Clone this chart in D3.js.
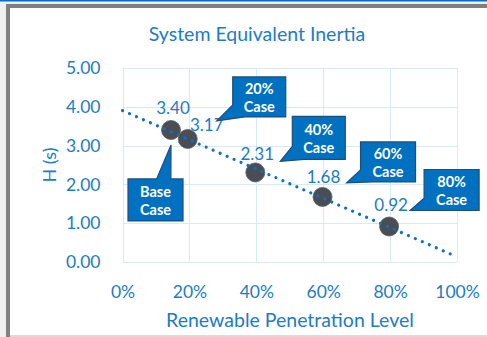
<!DOCTYPE html>
<html>
<head>
<meta charset="utf-8">
<script src="https://cdn.jsdelivr.net/npm/d3@7"></script>
<style>
  html, body { margin: 0; padding: 0; background: #fff; }
  svg { display: block; font-family: Lato, "Open Sans", sans-serif; }
</style>
</head>
<body>
<svg id="chart" width="487" height="337"></svg>
<script>
// Scenario data: renewable share vs. equivalent inertia
const penetration = [0.145, 0.195, 0.397, 0.598, 0.797];
const inertia = [3.40, 3.17, 2.31, 1.68, 0.92];
const caseNames = ["Base\nCase", "20%\nCase", "40%\nCase", "60%\nCase", "80%\nCase"];
const yTicks = [0, 1, 2, 3, 4, 5];
const xTicks = [0, 0.2, 0.4, 0.6, 0.8, 1.0];

// Label and callout placement (pixel offsets from each point)
const valueLabelOffset = [[2, -16], [19, -8], [2, -12], [1, -14], [2, -15]];
const calloutBox = [
  { x: -43, y: 49, w: 55, h: 42, tip: [0, 15] },
  { x: 45, y: -62, w: 53, h: 40, tip: [29, -18] },
  { x: 37, y: -56, w: 53, h: 43, tip: [25, -11] },
  { x: 38, y: -55, w: 55, h: 40, tip: [24, -14] },
  { x: 35, y: -57, w: 55, h: 41, tip: [21, -16] }
];

const svg = d3.select("#chart");
const blue = "#1E7CC2";

// Window frame
svg.append("rect").attr("x", 0).attr("y", 0).attr("width", 487).attr("height", 337).attr("fill", "#F0F0F0");
svg.append("rect").attr("x", 6).attr("y", 4).attr("width", 481).attr("height", 333).attr("fill", "#808080");
svg.append("rect").attr("x", 10).attr("y", 8).attr("width", 477).attr("height", 327).attr("fill", "#FFFFFF");
svg.append("rect").attr("x", 10).attr("y", 335).attr("width", 477).attr("height", 2).attr("fill", "#DADADA");
svg.append("rect").attr("x", 0).attr("y", 0).attr("width", 487).attr("height", 1.5).attr("fill", "#0070C0");

const x = d3.scaleLinear().domain([0, 1]).range([122.5, 457]);
const y = d3.scaleLinear().domain([0, 5]).range([262.3, 67.7]);

// Gridlines
const grid = svg.append("g").attr("stroke", "#D7EAF8").attr("stroke-width", 1);
grid.selectAll("line.h").data(yTicks).join("line")
  .attr("x1", x(0)).attr("x2", x(1))
  .attr("y1", d => Math.round(y(d)) + 0.5).attr("y2", d => Math.round(y(d)) + 0.5);
grid.selectAll("line.v").data(xTicks).join("line")
  .attr("y1", y(0)).attr("y2", y(5))
  .attr("x1", d => Math.round(x(d)) + 0.5).attr("x2", d => Math.round(x(d)) + 0.5);

// Axes
const yAxis = svg.append("g").attr("transform", `translate(${x(0)},0)`)
  .call(d3.axisLeft(y).tickValues(yTicks).tickFormat(d3.format(".2f")).tickSize(0).tickPadding(22));
const xAxis = svg.append("g").attr("transform", `translate(0,${y(0)})`)
  .call(d3.axisBottom(x).tickValues(xTicks).tickFormat(d3.format(".0%")).tickSize(0).tickPadding(22));
[yAxis, xAxis].forEach(a => {
  a.select(".domain").remove();
  a.selectAll("text").attr("fill", blue).attr("font-size", 17.5).attr("font-family", "Lato, sans-serif");
});
xAxis.selectAll("text").attr("dy", "0.76em");

// Titles
svg.append("text").attr("x", 257).attr("y", 41).attr("text-anchor", "middle")
  .attr("fill", blue).attr("font-size", 19.5).text("System Equivalent Inertia");
svg.append("text").attr("x", 290).attr("y", 327).attr("text-anchor", "middle")
  .attr("fill", blue).attr("font-size", 19.5).text("Renewable Penetration Level");
svg.append("text").attr("transform", "translate(56,165) rotate(-90)").attr("text-anchor", "middle")
  .attr("fill", blue).attr("font-size", 18).text("H (s)");

// Markers
const pts = penetration.map((p, i) => ({ p, h: inertia[i], i }));
svg.append("g").selectAll("circle").data(pts).join("circle")
  .attr("cx", d => x(d.p)).attr("cy", d => y(d.h)).attr("r", 9.5)
  .attr("fill", "#4A4E54").attr("stroke", "#5A5E64").attr("stroke-width", 0.8);

// Linear trendline (least squares over the scenarios)
const mx = d3.mean(penetration), my = d3.mean(inertia);
const slope = d3.sum(pts, d => (d.p - mx) * (d.h - my)) / d3.sum(pts, d => (d.p - mx) ** 2);
const icpt = my - slope * mx;
svg.append("line")
  .attr("x1", x(0)).attr("y1", y(icpt)).attr("x2", x(1)).attr("y2", y(icpt + slope))
  .attr("stroke", "#0A72C4").attr("stroke-width", 3.2).attr("stroke-linecap", "round")
  .attr("stroke-dasharray", "0.01 7.6");

// Value labels
svg.append("g").selectAll("text").data(pts).join("text")
  .attr("x", d => x(d.p) + valueLabelOffset[d.i][0])
  .attr("y", d => y(d.h) + valueLabelOffset[d.i][1])
  .attr("text-anchor", "middle").attr("fill", blue).attr("font-size", 17)
  .text(d => d3.format(".2f")(d.h));

// Callouts
const callouts = svg.append("g");
pts.forEach(d => {
  const c = calloutBox[d.i];
  const px = x(d.p), py = y(d.h);
  const bx = px + c.x, by = py + c.y;
  const tx = px + c.tip[0], ty = py + c.tip[1];
  let path;
  if (d.i === 0) {
    // pointer rises from the top edge of the box
    const a = bx + c.w * 0.52, b = bx + c.w * 0.78;
    path = `M${bx},${by} L${a},${by} L${tx},${ty} L${b},${by} L${bx + c.w},${by} L${bx + c.w},${by + c.h} L${bx},${by + c.h} Z`;
  } else {
    // pointer leaves from the lower-left corner
    path = `M${bx},${by} L${bx + c.w},${by} L${bx + c.w},${by + c.h} L${bx + 12},${by + c.h} L${tx},${ty} L${bx},${by + c.h * 0.7} Z`;
  }
  callouts.append("path").attr("d", path)
    .attr("fill", "#0070C0").attr("stroke", "#1F4E79").attr("stroke-width", 1.2).attr("stroke-linejoin", "miter");
  const lines = caseNames[d.i].split("\n");
  const t = callouts.append("text").attr("text-anchor", "middle").attr("fill", "#fff")
    .attr("font-weight", "bold").attr("font-size", 14.5);
  lines.forEach((ln, k) => {
    t.append("tspan").attr("x", bx + c.w / 2).attr("y", by + c.h / 2 - 2.5 + k * 17.5).text(ln);
  });
});
</script>
</body>
</html>
